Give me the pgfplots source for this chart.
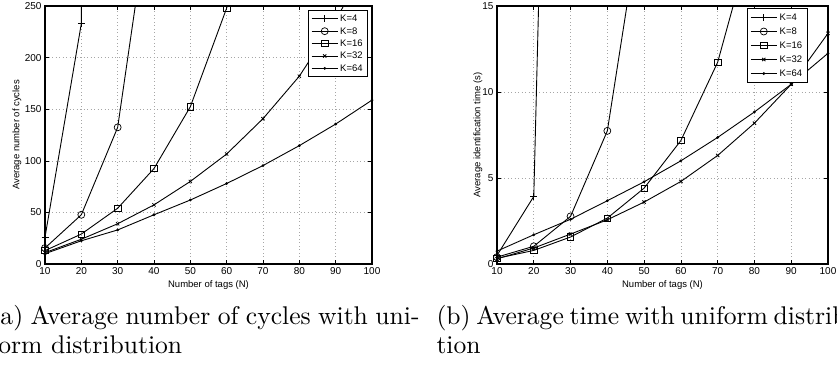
\documentclass[border=0pt]{standalone}
\usepackage{fontspec}
\usepackage{pgfplots}
\pgfplotsset{compat=1.18}
\newfontfamily\arial{Liberation Sans}
\pgfplotsset{
  mystyle/.style={
    scale only axis,
    height=258pt,
    xmin=10, xmax=100,
    xtick={10,20,...,100},
    axis line style={line width=1.1pt},
    tick align=inside,
    major tick length=4pt,
    tick style={line width=0.6pt,black},
    grid=major,
    major grid style={gray!70, line width=0.6pt, dash pattern=on 1pt off 2.5pt},
    /pgf/number format/assume math mode=true,
    ticklabel style={font=\arial\fontsize{10}{10}\selectfont},
    label style={font=\arial\fontsize{9.5}{10}\selectfont},
    xlabel style={at={(axis description cs:0.5,-0.0814)},anchor=center},
    legend cell align=left,
    legend image code/.code={\draw[mark repeat=2,mark phase=2] plot coordinates {(0pt,0pt) (13pt,0pt) (26pt,0pt)};},
    every axis plot/.append style={line width=0.9pt, black},
  },
  m4/.style={mark=+, mark size=3.5pt, mark options={line width=0.8pt}},
  m8/.style={mark=o, mark size=3.5pt, mark options={line width=0.7pt}},
  m16/.style={mark=square, mark size=3.2pt, mark options={line width=0.7pt}},
  m32/.style={mark=x, mark size=2.3pt, mark options={line width=0.8pt}},
  m64/.style={mark=*, mark size=0.9pt},
}
\begin{document}
\begin{tikzpicture}[x=1pt,y=1pt]
\useasboundingbox (0,0) rectangle (837,365);
\clip (0,0) rectangle (837,365);
% ---------------- (a)
\begin{axis}[mystyle,
  at={(45pt,101pt)}, anchor=south west,
  width=327pt,
  ymin=0, ymax=250, ytick={0,50,...,250},
  xlabel={Number of tags (N)},
  ylabel={Average number of cycles},
  ylabel style={at={(axis description cs:-0.0856,0.5)},anchor=center},
  legend style={at={(0.988,0.984)}, anchor=north east, draw=black, line width=0.9pt, fill=white,
    font=\arial\fontsize{9.5}{10}\selectfont, row sep=0pt,
    nodes={text height=7pt, text depth=1pt, inner ysep=2.2pt, inner xsep=2pt}},
]
\addplot[m4] coordinates {(10,26) (20,233) (30,5300)};
\addplot[m8] coordinates {(10,15.5) (20,47.7) (30,132.4) (40,375) (50,1024)};
\addplot[m16] coordinates {(10,13) (20,29) (30,54) (40,92.5) (50,152.4) (60,248) (70,405) (80,673)};
\addplot[m32] coordinates {(10,11) (20,24) (30,39) (40,57.3) (50,80) (60,106.6) (70,140.8) (80,182) (90,236) (100,301)};
\addplot[m64] coordinates {(10,10) (20,22.5) (30,33) (40,47.7) (50,62) (60,78) (70,95.4) (80,114.7) (90,135.6) (100,158.8)};
\legend{K=4,K=8,K=16,K=32,K=64}
\end{axis}
% ---------------- (b)
\begin{axis}[mystyle,
  at={(497pt,101pt)}, anchor=south west,
  width=331pt,
  ymin=0, ymax=15, ytick={0,5,10,15},
  xlabel={Number of tags (N)},
  ylabel={Average identification time (s)},
  ylabel style={at={(axis description cs:-0.0574,0.5)},anchor=center},
  legend style={at={(0.940,0.992)}, anchor=north east, draw=black, line width=0.9pt, fill=white,
    font=\arial\fontsize{9.5}{10}\selectfont, row sep=0pt,
    nodes={text height=7pt, text depth=1pt, inner ysep=3pt, inner xsep=2.5pt}},
]
\addplot[m4] coordinates {(10,0.5) (20,3.93) (30,89)};
\addplot[m8] coordinates {(10,0.4) (20,1.03) (30,2.77) (40,7.74) (50,21.4)};
\addplot[m16] coordinates {(10,0.33) (20,0.79) (30,1.57) (40,2.67) (50,4.41) (60,7.18) (70,11.73) (80,19.5)};
\addplot[m32] coordinates {(10,0.3) (20,0.93) (30,1.74) (40,2.57) (50,3.6) (60,4.8) (70,6.31) (80,8.19) (90,10.45) (100,13.41)};
\addplot[m64] coordinates {(10,0.75) (20,1.7) (30,2.6) (40,3.68) (50,4.78) (60,6.0) (70,7.36) (80,8.84) (90,10.45) (100,12.25)};
\legend{K=4,K=8,K=16,K=32,K=64}
\end{axis}
% ---------------- captions
\node[anchor=base west, inner sep=0pt, scale=2.56] at (-10,41) {\makebox[167.6pt][s]{(a) Average number of cycles with uni-}};
\node[anchor=base west, inner sep=0pt, scale=2.56] at (-10,12) {form distribution};
\node[anchor=base west, inner sep=0pt, scale=2.56] at (436,41) {\makebox[167.6pt][s]{(b) Average time with uniform distribu-}};
\node[anchor=base west, inner sep=0pt, scale=2.56] at (436,12) {tion};
\end{tikzpicture}
\end{document}
